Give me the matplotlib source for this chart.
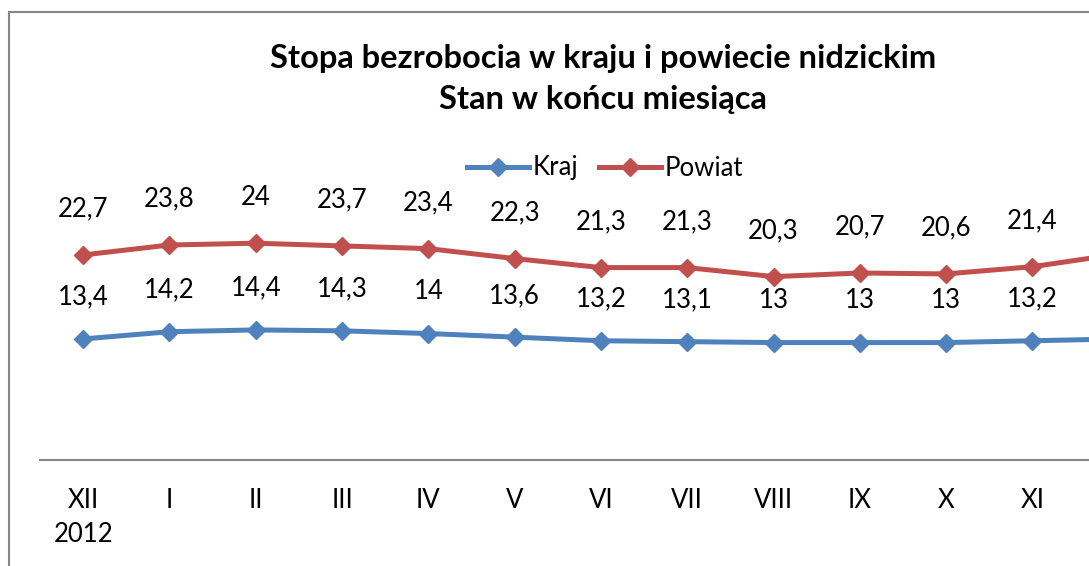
import matplotlib.pyplot as plt
from matplotlib.patches import Rectangle

plt.rcParams['font.family'] = ['Lato', 'DejaVu Sans']

miesiace = ["XII\n2012", "I", "II", "III", "IV", "V", "VI", "VII", "VIII", "IX", "X", "XI", "XII"]
kraj = [13.4, 14.2, 14.4, 14.3, 14.0, 13.6, 13.2, 13.1, 13.0, 13.0, 13.0, 13.2, 13.4]
powiat = [22.7, 23.8, 24.0, 23.7, 23.4, 22.3, 21.3, 21.3, 20.3, 20.7, 20.6, 21.4, 22.8]

# ostatni punkt wychodzi poza kadr - bez etykiet
widoczne = 12

W, H = 1089, 566
fig = plt.figure(figsize=(W / 100, H / 100), dpi=100)

# ramka wykresu (obcięta z prawej i z dołu)
fig.patches.append(Rectangle((9 / W, -0.1), 1.2, 1 - 12 / H + 0.1, transform=fig.transFigure,
                             fill=False, edgecolor="#868686", linewidth=1.5))

# obszar wykresu wychodzi poza prawą krawędź
ax = fig.add_axes([40 / W, 1 - 460 / H, (13 * 86.3) / W, 271 / H])
x = list(range(len(miesiace)))

ax.plot(x, kraj, color="#4F81BD", lw=3.6, marker="D", ms=9, label="Kraj")
ax.plot(x, powiat, color="#C0504D", lw=3.6, marker="D", ms=9, label="Powiat")

for xi, v in zip(x[:widoczne], kraj[:widoczne]):
    ax.annotate(f"{v:g}".replace(".", ","), (xi, v), xytext=(0, 30), textcoords="offset points",
                ha="center", va="center", fontsize=18.5)
for xi, v in zip(x[:widoczne], powiat[:widoczne]):
    ax.annotate(f"{v:g}".replace(".", ","), (xi, v), xytext=(0, 33), textcoords="offset points",
                ha="center", va="center", fontsize=18.5)

ax.set_xlim(-0.5, len(miesiace) - 0.5)
ax.set_ylim(0, 30)
ax.set_yticks([])
ax.set_xticks(x[:widoczne])
ax.set_xticklabels(miesiace[:widoczne], fontsize=18.5, linespacing=1.45)
ax.tick_params(axis="x", length=0, pad=20)
for s in ["top", "right", "left"]:
    ax.spines[s].set_visible(False)
ax.spines["bottom"].set_color("#868686")
ax.spines["bottom"].set_linewidth(1.5)
ax.patch.set_visible(False)

fig.text(603 / W, 1 - 58 / H, "Stopa bezrobocia w kraju i powiecie nidzickim", ha="center", va="center",
         fontsize=23.5, fontweight="bold")
fig.text(603 / W, 1 - 100 / H, "Stan w końcu miesiąca", ha="center", va="center",
         fontsize=23.5, fontweight="bold")

fig.legend(loc="center", bbox_to_anchor=(605 / W, 1 - 168 / H), ncol=2, frameon=False,
           fontsize=18.5, handlelength=2.4, columnspacing=0.8, handletextpad=0.15)

fig.savefig("out.png", dpi=100)
